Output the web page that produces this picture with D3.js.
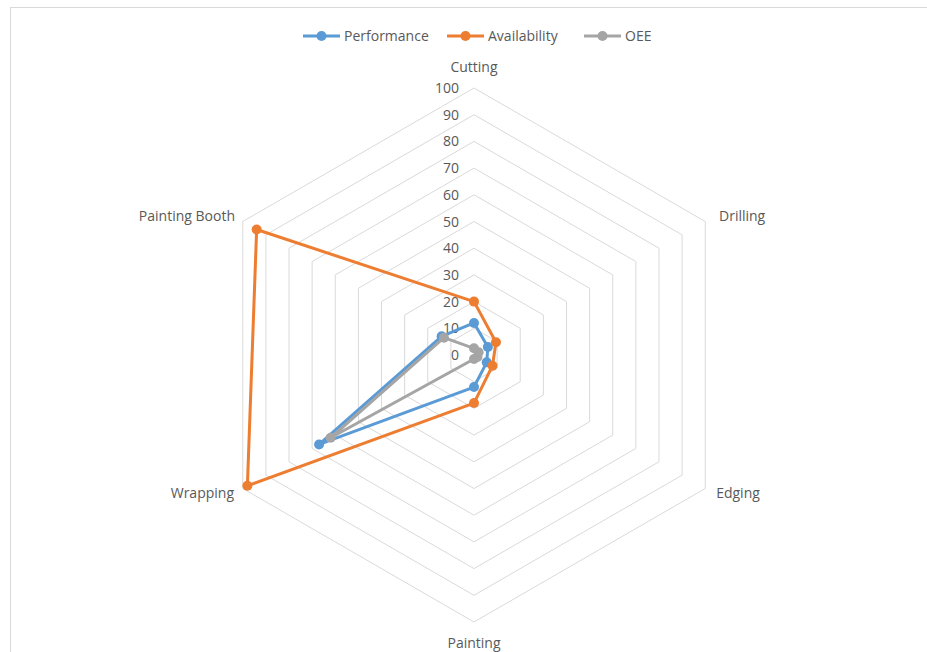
<!DOCTYPE html>
<html>
<head>
<meta charset="utf-8">
<script src="https://cdn.jsdelivr.net/npm/d3@7"></script>
<style>
  body { margin: 0; background: #fff; }
  svg text { font-family: "Open Sans", "Liberation Sans", sans-serif; fill: #595959; }
</style>
</head>
<body>
<div id="chart"></div>
<script>
const categories = ["Cutting", "Drilling", "Edging", "Painting", "Wrapping", "Painting Booth"];
const performance = [12, 6, 5.5, 12, 67, 14];
const availability = [20, 9.5, 8, 18, 98, 94];
const oee = [2.5, 2, 1.5, 1.5, 62, 13];
const seriesNames = ["Performance", "Availability", "OEE"];
const seriesColors = ["#5b9bd5", "#ed7d31", "#a5a5a5"];
const ticks = [0, 10, 20, 30, 40, 50, 60, 70, 80, 90, 100];

const width = 927, height = 652;
const cx = 474, cy = 355, R = 267;

const svg = d3.select("#chart").append("svg").attr("width", width).attr("height", height);

// chart border
svg.append("rect").attr("x", 10.5).attr("y", 7.5).attr("width", 940).attr("height", 700)
  .attr("fill", "none").attr("stroke", "#d9d9d9").attr("stroke-width", 1);

const r = d3.scaleLinear().domain([0, 100]).range([0, R]);
const angle = d3.scalePoint().domain(categories).range([0, 2 * Math.PI * (categories.length - 1) / categories.length]);

const g = svg.append("g").attr("transform", `translate(${cx},${cy})`);

const radial = d3.lineRadial().angle(d => angle(d.cat)).radius(d => r(d.v)).curve(d3.curveLinearClosed);

// grid rings
g.selectAll(".ring").data(ticks.filter(t => t > 0)).join("path")
  .attr("class", "ring")
  .attr("d", t => radial(categories.map(c => ({cat: c, v: t}))))
  .attr("fill", "none").attr("stroke", "#d9d9d9").attr("stroke-width", 1);

// tick labels
g.selectAll(".tick").data(ticks).join("text")
  .attr("x", -15).attr("y", t => -r(t) + 5)
  .attr("text-anchor", "end").attr("font-size", 14)
  .text(t => t);

// category labels
const labelPos = {
  "Cutting": [0, -283, "middle"],
  "Drilling": [245, -134, "start"],
  "Edging": [264, 143, "middle"],
  "Painting": [0, 293, "middle"],
  "Wrapping": [-240, 143, "end"],
  "Painting Booth": [-239, -134, "end"]
};
g.selectAll(".cat").data(categories).join("text")
  .attr("x", d => labelPos[d][0]).attr("y", d => labelPos[d][1])
  .attr("text-anchor", d => labelPos[d][2]).attr("font-size", 14)
  .text(d => d);

// series
const series = [performance, availability, oee].map((vals, i) => ({
  name: seriesNames[i], color: seriesColors[i],
  values: categories.map((c, j) => ({cat: c, v: vals[j]}))
}));

const sg = g.selectAll(".series").data(series).join("g");
sg.append("path")
  .attr("d", d => radial(d.values))
  .attr("fill", "none").attr("stroke", d => d.color).attr("stroke-width", 3)
  .attr("stroke-linejoin", "round");
sg.each(function(s) {
  d3.select(this).selectAll("circle").data(s.values).join("circle")
    .attr("cx", d => r(d.v) * Math.sin(angle(d.cat)))
    .attr("cy", d => -r(d.v) * Math.cos(angle(d.cat)))
    .attr("r", 5).attr("fill", s.color);
});

// legend
const legendX = [303, 447, 584];
const lg = svg.selectAll(".legend").data(series).join("g")
  .attr("transform", (d, i) => `translate(${legendX[i]},36)`);
lg.append("line").attr("x1", 0).attr("x2", 37).attr("y1", 0).attr("y2", 0)
  .attr("stroke", d => d.color).attr("stroke-width", 3);
lg.append("circle").attr("cx", 18.5).attr("cy", 0).attr("r", 5).attr("fill", d => d.color);
lg.append("text").attr("x", 41).attr("y", 5).attr("font-size", 14).text(d => d.name);
</script>
</body>
</html>
